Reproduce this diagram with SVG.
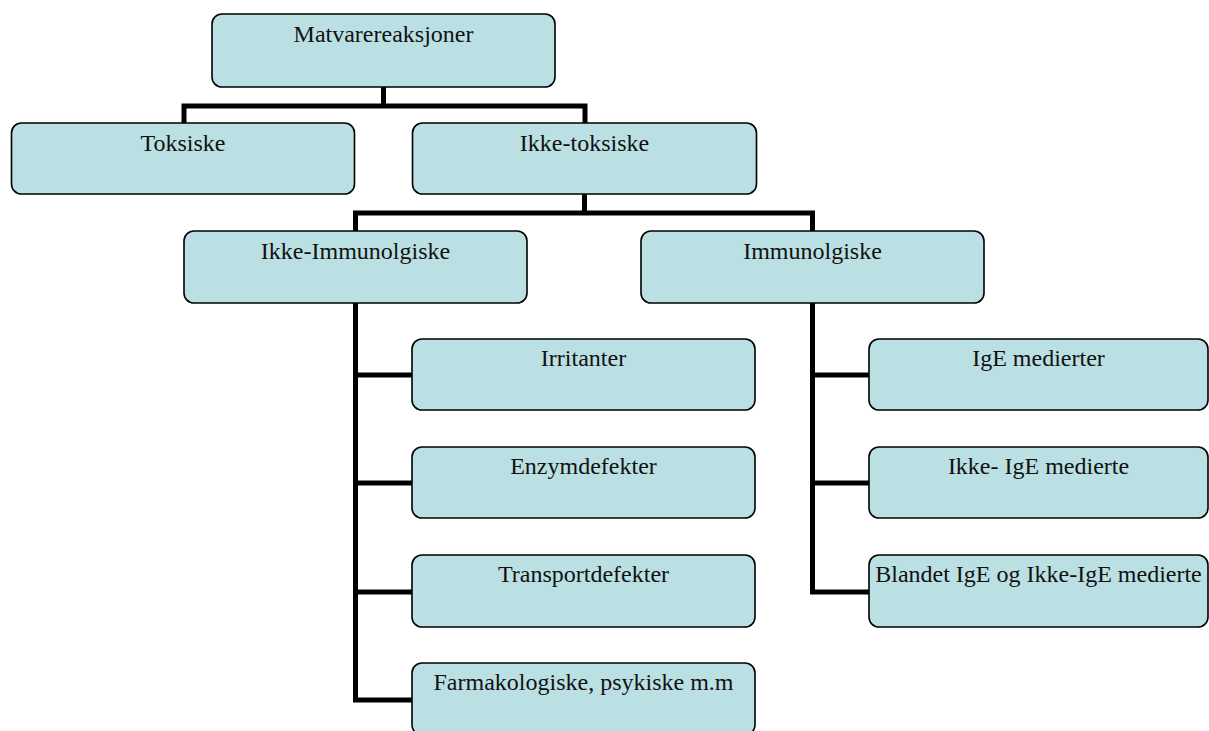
<svg xmlns="http://www.w3.org/2000/svg" width="1209" height="731" viewBox="0 0 1209 731">
<style>
.box{fill:#BAE0E3;stroke:#000;stroke-width:1.6}
.lbl{font-family:"Liberation Serif","Times New Roman",serif;font-size:24px;fill:#111;text-anchor:middle}
.conn{fill:none;stroke:#000;stroke-width:5;stroke-linejoin:miter;stroke-linecap:square}
</style>
<rect width="1209" height="731" fill="#fff"/>
<g id="connectors">
<path class="conn" d="M383.5,87 V106 M184,123 V106 H585 V123"/>
<path class="conn" d="M584.5,194 V213 M355.5,231 V213 H812.5 V231"/>
<path class="conn" d="M355.5,303 V700 H412 M355.5,375 H412 M355.5,483 H412 M355.5,592 H412"/>
<path class="conn" d="M812.5,303 V592 H869 M812.5,375 H869 M812.5,483 H869"/>
</g>
<g id="n-matvare"><rect class="box" x="212" y="14" width="343" height="73" rx="10"/><text class="lbl" x="383.5" y="42">Matvarereaksjoner</text></g>
<g id="n-toksiske"><rect class="box" x="11.5" y="123" width="343" height="71" rx="10"/><text class="lbl" x="183" y="151">Toksiske</text></g>
<g id="n-ikke-toksiske"><rect class="box" x="412.5" y="123" width="344" height="71" rx="10"/><text class="lbl" x="584.5" y="151">Ikke-toksiske</text></g>
<g id="n-ikke-immun"><rect class="box" x="184" y="231" width="343" height="72" rx="10"/><text class="lbl" x="355.5" y="259">Ikke-Immunolgiske</text></g>
<g id="n-immun"><rect class="box" x="641" y="231" width="343" height="72" rx="10"/><text class="lbl" x="812.5" y="259">Immunolgiske</text></g>
<g id="n-irritanter"><rect class="box" x="412" y="339" width="343" height="71" rx="10"/><text class="lbl" x="583.5" y="366">Irritanter</text></g>
<g id="n-enzym"><rect class="box" x="412" y="447" width="343" height="71" rx="10"/><text class="lbl" x="583.5" y="474">Enzymdefekter</text></g>
<g id="n-transport"><rect class="box" x="412" y="555" width="343" height="72" rx="10"/><text class="lbl" x="583.5" y="582">Transportdefekter</text></g>
<g id="n-farma"><rect class="box" x="412" y="663" width="343" height="72" rx="10"/><text class="lbl" x="583.5" y="690">Farmakologiske, psykiske m.m</text></g>
<g id="n-ige"><rect class="box" x="869" y="339" width="339" height="71" rx="10"/><text class="lbl" x="1038.5" y="366">IgE medierter</text></g>
<g id="n-ikke-ige"><rect class="box" x="869" y="447" width="339" height="71" rx="10"/><text class="lbl" x="1038.5" y="474">Ikke- IgE medierte</text></g>
<g id="n-blandet"><rect class="box" x="869" y="555" width="339" height="72" rx="10"/><text class="lbl" x="1038.5" y="582">Blandet IgE og Ikke-IgE medierte</text></g>
</svg>
